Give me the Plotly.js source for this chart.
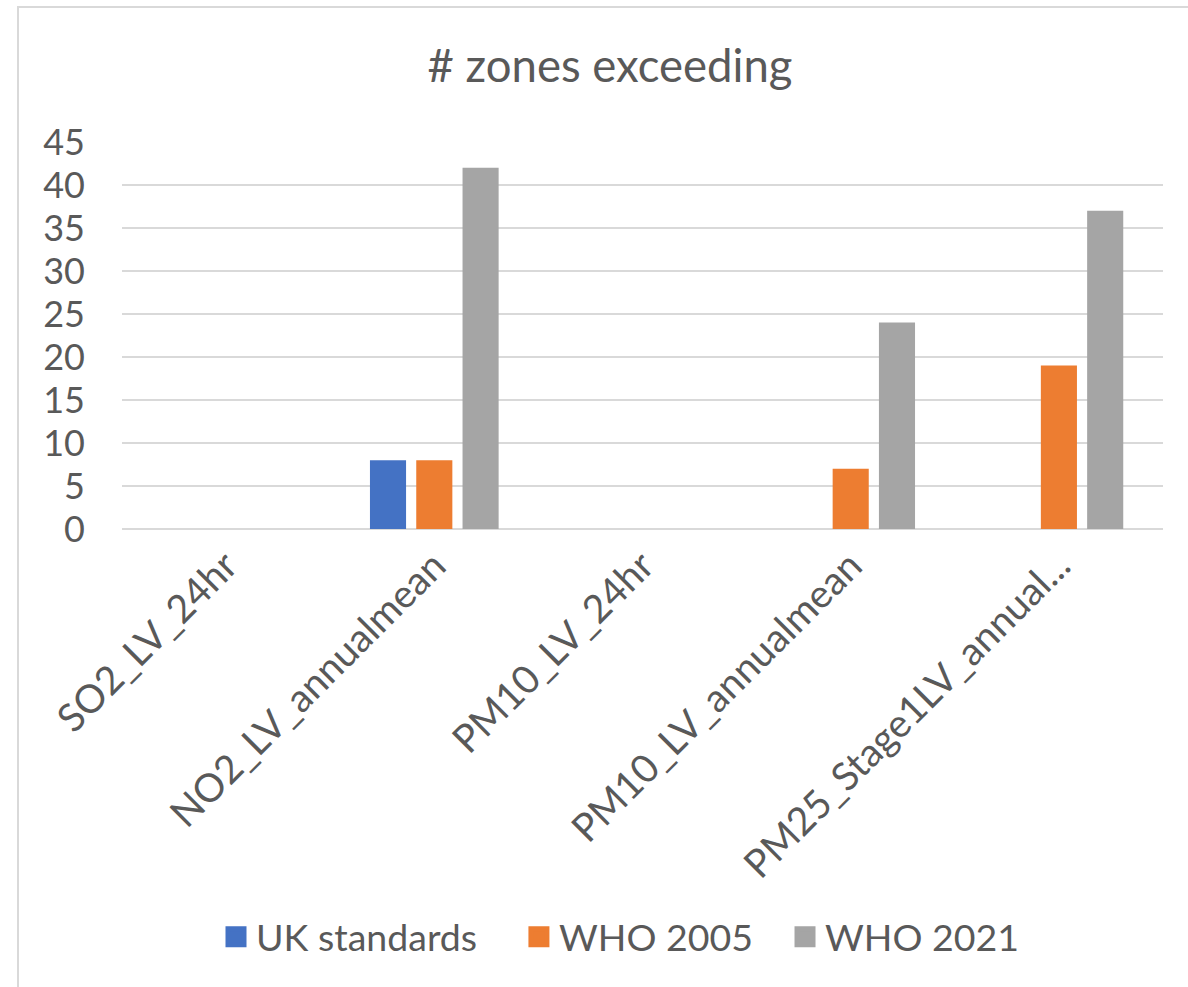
<!DOCTYPE html>
<html>
<head>
<meta charset="utf-8">
<script src="https://cdn.plot.ly/plotly-3.0.1.min.js"></script>
<style>
  html, body { margin: 0; padding: 0; background: #ffffff; }
  #wrap { position: relative; width: 1188px; height: 987px; overflow: hidden; }
  #chart { position: absolute; left: 0; top: 0; width: 1188px; height: 987px; }
  #frame { position: absolute; left: 17px; top: 6px; width: 1300px; height: 1100px;
           border-left: 2px solid #D9D9D9; border-top: 2px solid #D9D9D9; pointer-events: none; }
</style>
</head>
<body>
<div id="wrap">
  <div id="chart"></div>
  <div id="frame"></div>
</div>
<script>
const categories = ["SO2_LV_24hr", "NO2_LV_annualmean", "PM10_LV_24hr", "PM10_LV_annualmean", "PM25_Stage1LV_annual..."];
const seriesNames = ["UK standards", "WHO 2005", "WHO 2021"];
const ukStandards = [0, 8, 0, 0, 0];
const who2005 = [0, 8, 0, 7, 19];
const who2021 = [0, 42, 0, 24, 37];
const yTickValues = [0, 5, 10, 15, 20, 25, 30, 35, 40, 45];
const colors = ["#4472C4", "#ED7D31", "#A5A5A5"];

const FONT = "Lato, 'Open Sans', sans-serif";
const TXT = "#595959";

const seriesValues = [ukStandards, who2005, who2021];
const traces = seriesValues.map((vals, i) => ({
  type: "bar",
  name: seriesNames[i],
  x: categories,
  y: vals,
  marker: { color: colors[i], line: { width: 0 } },
  showlegend: false,
  hoverinfo: "x+y+name"
}));
// legend entries (square swatches), one legend each so spacing matches
const legendIds = ["legend", "legend2", "legend3"];
seriesNames.forEach((n, i) => {
  traces.push({
    type: "scatter",
    mode: "markers",
    name: n,
    x: [null],
    y: [null],
    legend: legendIds[i],
    marker: { symbol: "square", size: 16, color: colors[i], line: { color: colors[i], width: 5 } },
    showlegend: true,
    hoverinfo: "skip"
  });
});

const legendXs = [0.0903, 0.3813, 0.6369];
function legendCfg(x) {
  return {
    orientation: "h",
    x: x, xanchor: "left",
    y: -1.054, yanchor: "middle",
    font: { family: FONT, size: 37.5, color: TXT },
    bgcolor: "rgba(0,0,0,0)",
    itemclick: false,
    itemdoubleclick: false
  };
}

const layout = {
  width: 1188,
  height: 987,
  paper_bgcolor: "#ffffff",
  plot_bgcolor: "#ffffff",
  margin: { l: 122, r: 25, t: 142, b: 458 },
  font: { family: FONT, color: TXT, size: 36 },
  title: {
    text: "# zones exceeding",
    font: { family: FONT, size: 45.5, color: TXT },
    x: 0.5135, xref: "container", xanchor: "center",
    y: 0.933, yref: "container", yanchor: "middle"
  },
  barmode: "group",
  bargap: 0.333,
  bargroupgap: 0.22,
  xaxis: {
    type: "category",
    categoryorder: "array",
    categoryarray: categories,
    tickangle: -45,
    tickfont: { family: FONT, size: 39, color: TXT },
    showgrid: false,
    showline: false,
    zeroline: false,
    ticks: "",
    ticklabelstandoff: 5,
    automargin: false
  },
  yaxis: {
    range: [0, 45],
    tickvals: yTickValues,
    ticktext: yTickValues.map(String),
    tickfont: { family: FONT, size: 36, color: TXT },
    showgrid: true,
    gridcolor: "#D9D9D9",
    gridwidth: 2,
    zeroline: true,
    zerolinecolor: "#D9D9D9",
    zerolinewidth: 2,
    showline: false,
    ticks: "",
    ticklabelstandoff: 36,
    automargin: false
  },
  showlegend: true,
  legend: legendCfg(legendXs[0]),
  legend2: legendCfg(legendXs[1]),
  legend3: legendCfg(legendXs[2])
};

Plotly.newPlot("chart", traces, layout, { displayModeBar: false, staticPlot: true });
</script>
</body>
</html>
